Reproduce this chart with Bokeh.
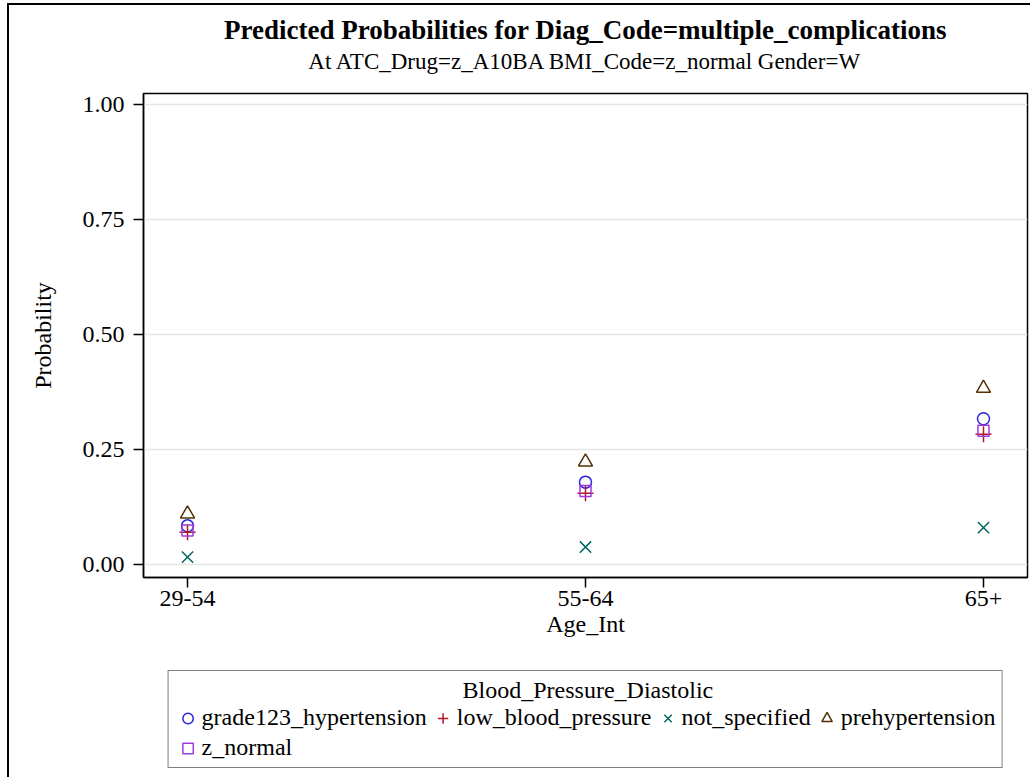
from bokeh.plotting import figure
from bokeh.layouts import column
from bokeh.models import (Range1d, Legend, LegendItem, FixedTicker, Title,
                          NumeralTickFormatter)
from bokeh.embed import file_html
from bokeh.resources import INLINE

# ---------------- data ----------------
age_groups = ["29-54", "55-64", "65+"]
grade123_hypertension = [0.084, 0.179, 0.317]
low_blood_pressure = [0.070, 0.155, 0.283]
not_specified = [0.016, 0.038, 0.080]
prehypertension = [0.110, 0.223, 0.383]
z_normal = [0.074, 0.160, 0.291]
y_ticks = [0.0, 0.25, 0.5, 0.75, 1.0]

title_text = "Predicted Probabilities for Diag_Code=multiple_complications"
subtitle_text = "At ATC_Drug=z_A10BA BMI_Code=z_normal Gender=W"
legend_title = "Blood_Pressure_Diastolic"

FONT = "Liberation Serif"

# page geometry (page pixels)
OX, OY = 9, 5                          # content origin on the page
W = 1032 - OX - 2
HA = 650                               # main figure height
HB = 778 - OY - HA - 1                 # legend strip height
FL, FR, FT, FB = 143, 1027, 93, 577    # frame on the page

x0, x1 = -0.1106, 2.1106
y0, y1 = -0.0283, 1.0239

p = figure(width=W, height=HA, output_backend="svg", toolbar_location=None,
           x_range=Range1d(x0, x1), y_range=Range1d(y0, y1),
           min_border_left=FL - OX, min_border_right=W - (FR - OX),
           min_border_top=FT - OY, min_border_bottom=HA - (FB - OY))

p.background_fill_color = "white"
p.border_fill_color = "white"
p.outline_line_color = "#000000"
p.outline_line_width = 1.5
p.outline_line_alpha = 1.0

# titles: main title (outer) and subtitle (next to the frame)
p.title.text = title_text
p.title.text_font = FONT
p.title.text_font_size = "27px"
p.title.text_font_style = "bold"
p.title.text_color = "#000000"
p.title.align = "center"
p.title.standoff = -26
p.title.offset = 7
p.add_layout(Title(text=subtitle_text, text_font=FONT, text_font_size="23px",
                   text_font_style="normal", text_color="#000000",
                   align="center", vertical_align="top", standoff=35,
                   offset=-3), "above")

xs = list(range(len(age_groups)))

series = [
    ("grade123_hypertension", grade123_hypertension, "circle", "#2A25D9", 12),
    ("low_blood_pressure", low_blood_pressure, "cross", "#B2182B", 16),
    ("not_specified", not_specified, "x", "#01665E", 16),
    ("prehypertension", prehypertension, "triangle", "#543005", 14),
    ("z_normal", z_normal, "square", "#9D3CDB", 11),
]

for name, vals, marker, color, size in series:
    p.scatter(xs, vals, marker=marker, size=size, fill_color=None,
              line_color=color, line_width=1.5)

# axes
p.xaxis.ticker = FixedTicker(ticks=xs)
p.xaxis.major_label_overrides = {i: g for i, g in zip(xs, age_groups)}
p.yaxis.ticker = FixedTicker(ticks=y_ticks)
p.yaxis.formatter = NumeralTickFormatter(format="0.00")

for ax in (p.xaxis[0], p.yaxis[0]):
    ax.axis_line_color = "#000000"
    ax.axis_line_width = 1.5
    ax.major_tick_out = 10
    ax.major_tick_in = 0
    ax.major_tick_line_color = "#000000"
    ax.major_tick_line_width = 1.5
    ax.minor_tick_line_color = None
    ax.major_label_text_font = FONT
    ax.major_label_text_font_size = "24px"
    ax.major_label_text_color = "#000000"
    ax.axis_label_text_font = FONT
    ax.axis_label_text_font_size = "24px"
    ax.axis_label_text_font_style = "normal"
    ax.axis_label_text_color = "#000000"

p.xaxis.axis_label = "Age_Int"
p.yaxis.axis_label = "Probability"
p.xaxis.major_label_standoff = 3
p.xaxis.axis_label_standoff = 2
p.yaxis.major_label_standoff = 9
p.yaxis.axis_label_standoff = 24

p.xgrid.grid_line_color = None
p.ygrid.grid_line_color = "#e6e6e6"
p.ygrid.grid_line_width = 1.5

# ---------------- legend strip ----------------
# same frame columns as the main plot so that the legend centres under it;
# ranges are placed away from the data so only the legend glyphs show.
q = figure(width=W, height=HB, output_backend="svg", toolbar_location=None,
           x_range=Range1d(-20, -19), y_range=Range1d(-20, -19),
           x_axis_location=None, y_axis_location=None,
           min_border_left=FL - OX, min_border_right=W - (FR - OX),
           min_border_top=0, min_border_bottom=0)
q.outline_line_color = None
q.xgrid.grid_line_color = None
q.ygrid.grid_line_color = None
q.background_fill_color = "white"
q.border_fill_color = "white"

items = []
for name, vals, marker, color, size in series:
    r = q.scatter(xs, vals, marker=marker, size=size, fill_color=None,
                  line_color=color, line_width=1.5)
    items.append(LegendItem(label=name, renderers=[r]))

LEG_B = 768
pad = "\u00a0" * 48
legend = Legend(items=items, orientation="horizontal", ncols=4,
                location="bottom_center",
                title=pad + legend_title,
                title_text_font=FONT, title_text_font_size="24px",
                title_text_font_style="normal", title_text_color="#000000",
                title_standoff=0,
                label_text_font=FONT, label_text_font_size="24px",
                label_text_color="#000000",
                glyph_width=26, glyph_height=26, label_standoff=1,
                spacing=3, padding=6, margin=HA + OY + HB - LEG_B,
                border_line_color="#000000", border_line_width=1.5,
                background_fill_color="white", background_fill_alpha=1.0)
q.add_layout(legend, "center")

layout = column(p, q, spacing=0,
                styles={"margin-left": "7px", "margin-top": "3px",
                        "border-left": "2px solid #000",
                        "border-top": "2px solid #000"})

open("out.html", "w").write(file_html(layout, INLINE))
